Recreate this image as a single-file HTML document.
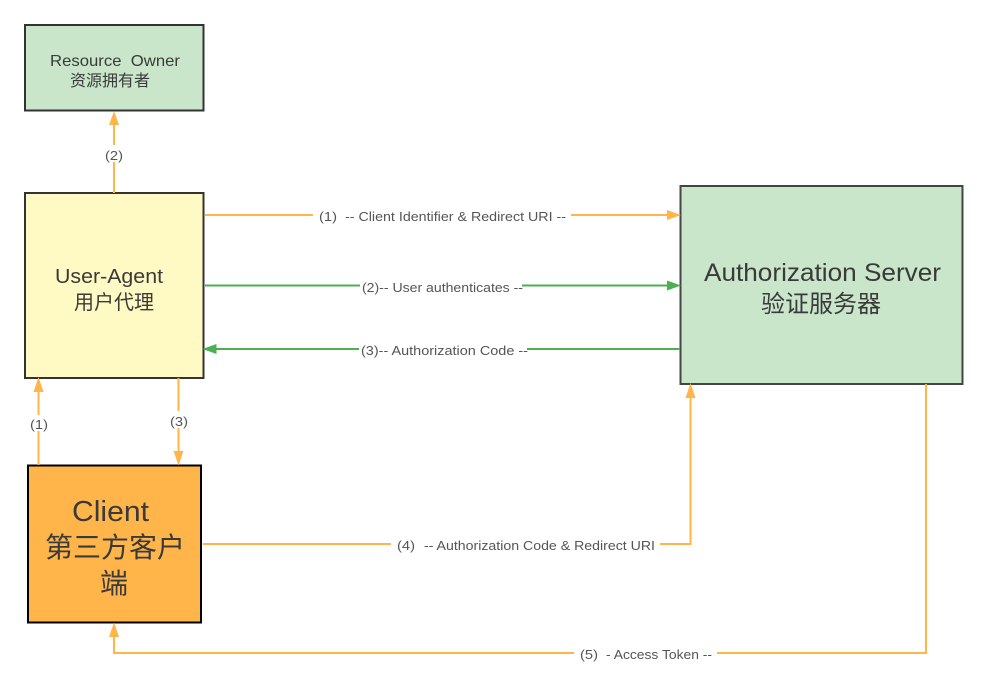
<!DOCTYPE html>
<html><head><meta charset="utf-8"><style>
html,body{margin:0;padding:0;background:#fff}
svg{display:block}
text{font-family:"Liberation Sans","Noto Sans CJK SC",sans-serif;fill:#3a3a3a}
.l{font-size:12.500px;fill:#555}
</style></head><body>
<svg width="987" height="678" viewBox="0 0 987 678" xmlns="http://www.w3.org/2000/svg">
<rect x="25" y="25" width="178.500" height="85.500" fill="#c9e6cb" stroke="#333" stroke-width="2"/>
<rect x="25" y="193" width="178.500" height="185" fill="#fff9c4" stroke="#333" stroke-width="2"/>
<rect x="28" y="465.500" width="173" height="157" fill="#ffb54a" stroke="#000" stroke-width="2"/>
<rect x="680.500" y="186" width="282" height="198" fill="#c9e6cb" stroke="#444" stroke-width="2"/>

<g fill="none" stroke="#ffb54a" stroke-width="2">
<path d="M114 193V162M114 145V122"/>
<path d="M205 215H313M571 215H670"/>
<path d="M38.500 465V431M38.500 415V390"/>
<path d="M178.500 378V411M178.500 428V454"/>
<path d="M203 544H391M660 544H690.500V395"/>
<path d="M926 384V653H717M574 653H114V634"/>
</g>
<g fill="none" stroke="#4caf50" stroke-width="2">
<path d="M205 285.500H360M522 285.500H670"/>
<path d="M680 349H527M359 349H214"/>
</g>
<g fill="#ffb54a">
<polygon points="114,111 109,125 119,125"/>
<polygon points="681,215 667,210 667,220"/>
<polygon points="38.500,377 33.500,392 43.500,392"/>
<polygon points="178.500,465.500 173.500,451 183.500,451"/>
<polygon points="690.500,383 685.500,398 695.500,398"/>
<polygon points="114,622.500 109,637 119,637"/>
</g>
<g fill="#4caf50">
<polygon points="681,285.500 667,280.500 667,290.500"/>
<polygon points="202.500,349 216.500,344 216.500,354"/>
</g>

<text x="50" y="66" font-size="16" textLength="130" lengthAdjust="spacingAndGlyphs" xml:space="preserve">Resource  Owner</text>
<text x="70" y="86" font-size="16">资源拥有者</text>
<text x="55" y="283" font-size="20" textLength="108" lengthAdjust="spacingAndGlyphs">User-Agent</text>
<text x="74" y="309" font-size="20">用户代理</text>
<text x="704" y="281" font-size="25" textLength="237" lengthAdjust="spacingAndGlyphs">Authorization Server</text>
<text x="761" y="312" font-size="24">验证服务器</text>
<text x="72" y="521" font-size="29" textLength="77" lengthAdjust="spacingAndGlyphs">Client</text>
<text x="45" y="557" font-size="28">第三方客户</text>
<text x="100" y="593" font-size="28">端</text>

<text class="l" x="105" y="160" textLength="18" lengthAdjust="spacingAndGlyphs">(2)</text>
<text class="l" x="30" y="429" textLength="18" lengthAdjust="spacingAndGlyphs">(1)</text>
<text class="l" x="170" y="426" textLength="18" lengthAdjust="spacingAndGlyphs">(3)</text>
<text class="l" x="319" y="221" textLength="18" lengthAdjust="spacingAndGlyphs">(1)</text>
<text class="l" x="345" y="221" textLength="221" lengthAdjust="spacingAndGlyphs">-- Client Identifier &amp; Redirect URI --</text>
<text class="l" x="362" y="292" textLength="161" lengthAdjust="spacingAndGlyphs">(2)-- User authenticates --</text>
<text class="l" x="361" y="355" textLength="167" lengthAdjust="spacingAndGlyphs">(3)-- Authorization Code --</text>
<text class="l" x="397" y="550" textLength="18" lengthAdjust="spacingAndGlyphs">(4)</text>
<text class="l" x="424" y="550" textLength="231" lengthAdjust="spacingAndGlyphs">-- Authorization Code &amp; Redirect URI</text>
<text class="l" x="580" y="659" textLength="18" lengthAdjust="spacingAndGlyphs">(5)</text>
<text class="l" x="606" y="659" textLength="106" lengthAdjust="spacingAndGlyphs">- Access Token --</text>
</svg>
</body></html>
